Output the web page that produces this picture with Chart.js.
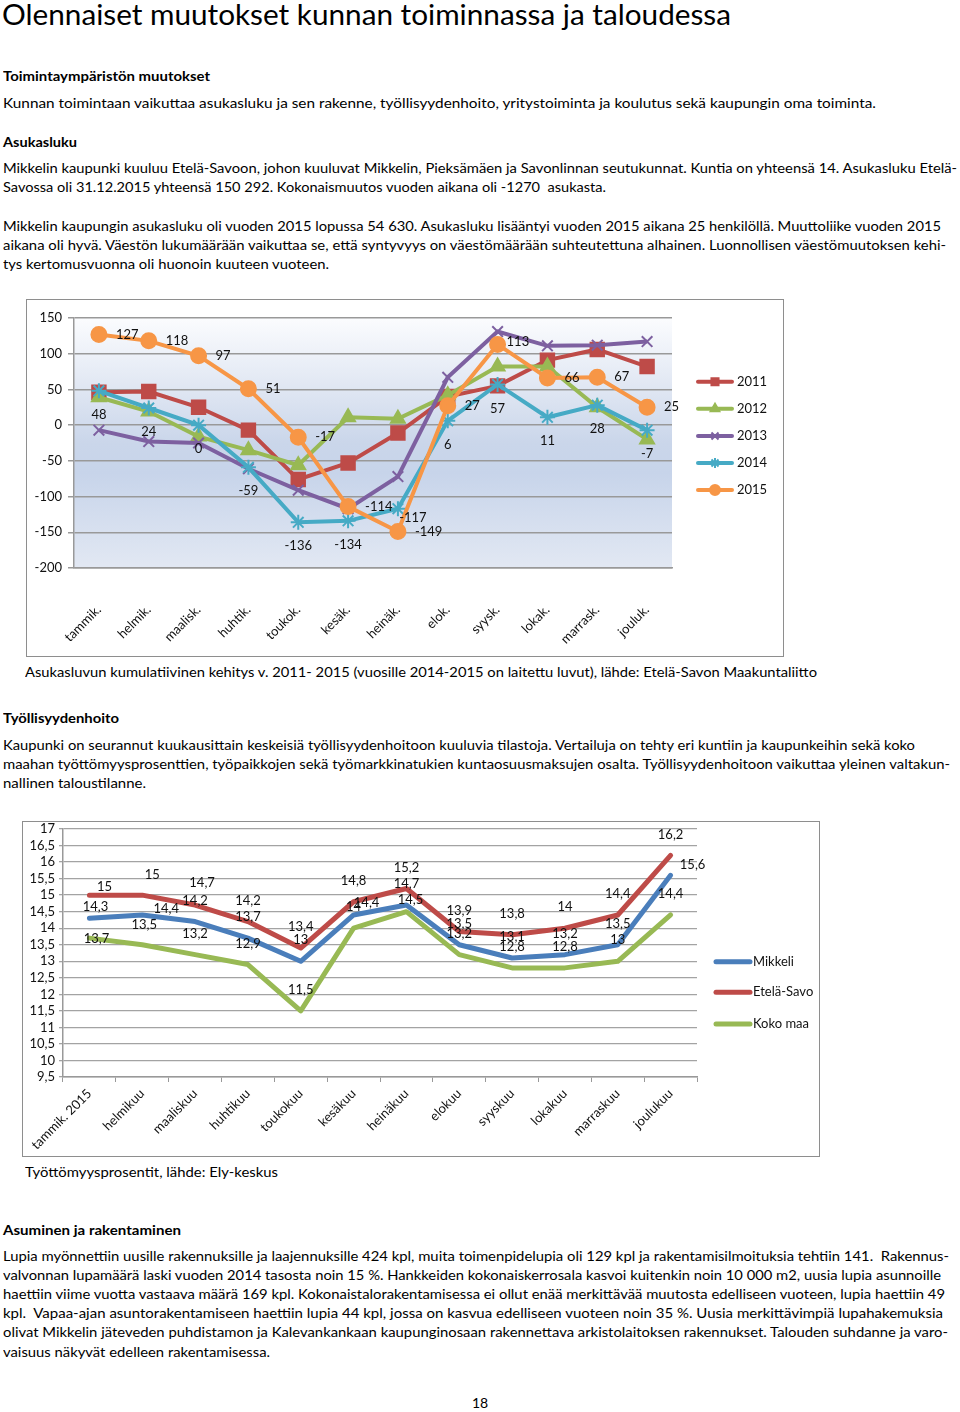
<!DOCTYPE html>
<html><head><meta charset="utf-8">
<script src="https://cdn.jsdelivr.net/npm/chart.js@4.4.1/dist/chart.umd.min.js"></script>
<style>
html,body{margin:0;padding:0;background:#fff;}
body{width:960px;height:1412px;position:relative;overflow:hidden;font-family:Lato,"Open Sans",sans-serif;color:#000;}
.t{position:absolute;white-space:pre;font-size:14px;line-height:19px;transform-origin:0 0;}
.b{font-weight:bold;}
.box{position:absolute;border:1px solid #8e8e8e;background:#fff;}
canvas{display:block;}
</style></head><body>
<div class="t" style="left:2px;top:0px;font-size:28px;line-height:28px" data-w="729">Olennaiset muutokset kunnan toiminnassa ja taloudessa</div>
<div class="t b" style="left:3px;top:66px" data-w="207">Toimintaympäristön muutokset</div>
<div class="t" style="left:3px;top:93px" data-w="873">Kunnan toimintaan vaikuttaa asukasluku ja sen rakenne, työllisyydenhoito, yritystoiminta ja koulutus sekä kaupungin oma toiminta.</div>
<div class="t b" style="left:3px;top:132px" data-w="74">Asukasluku</div>
<div class="t" style="left:3px;top:158px" data-w="954">Mikkelin kaupunki kuuluu Etelä-Savoon, johon kuuluvat Mikkelin, Pieksämäen ja Savonlinnan seutukunnat. Kuntia on yhteensä 14. Asukasluku Etelä-</div>
<div class="t" style="left:3px;top:177px" data-w="603">Savossa oli 31.12.2015 yhteensä 150 292. Kokonaismuutos vuoden aikana oli -1270  asukasta.</div>
<div class="t" style="left:3px;top:216px" data-w="938">Mikkelin kaupungin asukasluku oli vuoden 2015 lopussa 54 630. Asukasluku lisääntyi vuoden 2015 aikana 25 henkilöllä. Muuttoliike vuoden 2015</div>
<div class="t" style="left:3px;top:235px" data-w="943">aikana oli hyvä. Väestön lukumäärään vaikuttaa se, että syntyvyys on väestömäärään suhteutettuna alhainen. Luonnollisen väestömuutoksen kehi-</div>
<div class="t" style="left:3px;top:254px" data-w="326">tys kertomusvuonna oli huonoin kuuteen vuoteen.</div>

<div class="box" style="left:26px;top:299px;width:756px;height:356px"><canvas id="c1" width="756" height="356"></canvas></div>

<div class="t" style="left:25px;top:662px" data-w="792">Asukasluvun kumulatiivinen kehitys v. 2011- 2015 (vuosille 2014-2015 on laitettu luvut), lähde: Etelä-Savon Maakuntaliitto</div>
<div class="t b" style="left:3px;top:708px" data-w="116">Työllisyydenhoito</div>
<div class="t" style="left:3px;top:735px" data-w="912">Kaupunki on seurannut kuukausittain keskeisiä työllisyydenhoitoon kuuluvia tilastoja. Vertailuja on tehty eri kuntiin ja kaupunkeihin sekä koko</div>
<div class="t" style="left:3px;top:754px" data-w="947">maahan työttömyysprosenttien, työpaikkojen sekä työmarkkinatukien kuntaosuusmaksujen osalta. Työllisyydenhoitoon vaikuttaa yleinen valtakun-</div>
<div class="t" style="left:3px;top:773px" data-w="143">nallinen taloustilanne.</div>

<div class="box" style="left:22px;top:821px;width:796px;height:334px"><canvas id="c2" width="796" height="334"></canvas></div>

<div class="t" style="left:25px;top:1162px" data-w="253">Työttömyysprosentit, lähde: Ely-keskus</div>
<div class="t b" style="left:3px;top:1220px" data-w="178">Asuminen ja rakentaminen</div>
<div class="t" style="left:3px;top:1246px" data-w="946">Lupia myönnettiin uusille rakennuksille ja laajennuksille 424 kpl, muita toimenpidelupia oli 129 kpl ja rakentamisilmoituksia tehtiin 141.  Rakennus-</div>
<div class="t" style="left:3px;top:1265px" data-w="938">valvonnan lupamäärä laski vuoden 2014 tasosta noin 15 %. Hankkeiden kokonaiskerrosala kasvoi kuitenkin noin 10 000 m2, uusia lupia asunnoille</div>
<div class="t" style="left:3px;top:1284px" data-w="942">haettiin viime vuotta vastaava määrä 169 kpl. Kokonaistalorakentamisessa ei ollut enää merkittävää muutosta edelliseen vuoteen, lupia haettiin 49</div>
<div class="t" style="left:3px;top:1303px" data-w="940">kpl.  Vapaa-ajan asuntorakentamiseen haettiin lupia 44 kpl, jossa on kasvua edelliseen vuoteen noin 35 %. Uusia merkittävimpiä lupahakemuksia</div>
<div class="t" style="left:3px;top:1322px" data-w="945">olivat Mikkelin jäteveden puhdistamon ja Kalevankankaan kaupunginosaan rakennettava arkistolaitoksen rakennukset. Talouden suhdanne ja varo-</div>
<div class="t" style="left:3px;top:1342px" data-w="267">vaisuus näkyvät edelleen rakentamisessa.</div>
<div class="t" style="left:472px;top:1393px">18</div>

<script>
// ---------- Chart 1 data ----------
const months1 = ['tammik.','helmik.','maalisk.','huhtik.','toukok.','kesäk.','heinäk.','elok.','syysk.','lokak.','marrask.','jouluk.'];
const y2011 = [46, 47, 25, -7, -76, -53, -11, 40, 55, 91, 106, 82];
const y2012 = [39, 19, -16, -35, -56, 11, 9, 42, 82, 82, 25, -20];
const y2013 = [-7, -23, -25, -61, -91, -117, -72, 67, 131, 111, 112, 117];
const y2014 = [48, 24, 0, -59, -136, -134, -117, 6, 57, 11, 28, -7];
const y2015 = [127, 118, 97, 51, -17, -114, -149, 27, 113, 66, 67, 25];
const yTicks1 = [150, 100, 50, 0, -50, -100, -150, -200];
const series1Names = ['2011','2012','2013','2014','2015'];

// ---------- Chart 2 data ----------
const months2 = ['tammik. 2015','helmikuu','maaliskuu','huhtikuu','toukokuu','kesäkuu','heinäkuu','elokuu','syyskuu','lokakuu','marraskuu','joulukuu'];
const mikkeli = [14.3, 14.4, 14.2, 13.7, 13.0, 14.4, 14.7, 13.5, 13.1, 13.2, 13.5, 15.6];
const etelaSavo = [15.0, 15.0, 14.7, 14.2, 13.4, 14.8, 15.2, 13.9, 13.8, 14.0, 14.4, 16.2];
const kokoMaa = [13.7, 13.5, 13.2, 12.9, 11.5, 14.0, 14.5, 13.2, 12.8, 12.8, 13.0, 14.4];
const yTicks2 = [17, 16.5, 16, 15.5, 15, 14.5, 14, 13.5, 13, 12.5, 12, 11.5, 11, 10.5, 10, 9.5];
const series2Names = ['Mikkeli','Etelä-Savo','Koko maa'];

const FONT = 'Lato, "Open Sans", sans-serif';
const fmt = v => String(Math.round(v * 10) / 10).replace('.', ',');

// fit text lines
document.querySelectorAll('[data-w]').forEach(el => {
  const w = el.getBoundingClientRect().width;
  el.style.transform = 'scaleX(' + (+el.dataset.w / w) + ')';
});

const C = {
  red: '#be4b48', green: '#98b954', purple: '#7d60a0', teal: '#46aac5', orange: '#f79646',
  blue: '#4a7ebb'
};

function drawMarker(ctx, style, radius, color, x, y) {
  const opts = {pointStyle: style, radius: radius, rotation: 0, borderWidth: 2};
  ctx.save();
  ctx.fillStyle = color; ctx.strokeStyle = color; ctx.lineWidth = 2;
  Chart.helpers.drawPoint(ctx, opts, x, y);
  ctx.restore();
}

const bgPlugin = {
  id: 'bg1',
  beforeDraw(chart) {
    const a = chart.chartArea, ctx = chart.ctx;
    const g = ctx.createLinearGradient(0, a.top, 0, a.bottom);
    g.addColorStop(0, '#fbfcfe');
    g.addColorStop(0.25, '#e3e9f4');
    g.addColorStop(0.5, '#cad6ea');
    g.addColorStop(0.62, '#c7d4ea');
    g.addColorStop(1, '#e2e8f3');
    ctx.save(); ctx.fillStyle = g; ctx.fillRect(a.left, a.top, a.right - a.left, a.bottom - a.top); ctx.restore();
  }
};

const labels1Plugin = {
  id: 'lab1',
  afterDatasetsDraw(chart) {
    const ctx = chart.ctx;
    ctx.save();
    ctx.font = '13px ' + FONT; ctx.fillStyle = '#111'; ctx.textBaseline = 'middle';
    // 2014 below points
    const m4 = chart.getDatasetMeta(3);
    m4.data.forEach((p, i) => {
      let dx = 0, dy = 24; ctx.textAlign = 'center';
      if (i === 6) { dx = 15; dy = 9; }
      ctx.fillText(String(y2014[i]), p.x + dx, p.y + dy);
    });
    // 2015 right of points
    const m5 = chart.getDatasetMeta(4);
    m5.data.forEach((p, i) => {
      let dx = 17, dy = 0; ctx.textAlign = 'left';
      if (i === 8) { dx = 9; dy = -3; }
      ctx.fillText(String(y2015[i]), p.x + dx, p.y + dy);
    });
    ctx.restore();
  }
};

const legend1Plugin = {
  id: 'leg1',
  afterDraw(chart) {
    const ctx = chart.ctx;
    const ys = [81.7, 108.7, 136, 163, 190];
    chart.data.datasets.forEach((ds, i) => {
      const y = ys[i];
      ctx.save();
      ctx.strokeStyle = ds.borderColor; ctx.lineWidth = 4; ctx.lineCap = 'round';
      ctx.beginPath(); ctx.moveTo(671, y); ctx.lineTo(705, y); ctx.stroke();
      ctx.restore();
      drawMarker(ctx, ds.pointStyle, 5, ds.borderColor, 688, y);
      ctx.save();
      ctx.font = '13px ' + FONT; ctx.fillStyle = '#111'; ctx.textBaseline = 'middle'; ctx.textAlign = 'left';
      ctx.fillText(ds.label, 710, y);
      ctx.restore();
    });
  }
};

function ds1(label, data, color, style, radius, order) {
  return {label, data, borderColor: color, backgroundColor: color, pointBackgroundColor: color,
    pointBorderColor: color, pointStyle: style, pointRadius: radius, pointBorderWidth: 2,
    borderWidth: 4, tension: 0, fill: false, order};
}

new Chart(document.getElementById('c1'), {
  type: 'line',
  data: {labels: months1, datasets: [
    ds1(series1Names[0], y2011, C.red, 'rect', 9.5, 5),
    ds1(series1Names[1], y2012, C.green, 'triangle', 8, 4),
    ds1(series1Names[2], y2013, C.purple, 'crossRot', 7.5, 3),
    ds1(series1Names[3], y2014, C.teal, 'star', 7.5, 2),
    ds1(series1Names[4], y2015, C.orange, 'circle', 7.5, 1)
  ]},
  options: {
    responsive: false, animation: false, devicePixelRatio: 1,
    layout: {padding: {top: 18, right: 111, left: 0, bottom: 0}},
    plugins: {legend: {display: false}, tooltip: {enabled: false}},
    scales: {
      x: {offset: true,
        grid: {display: false, drawTicks: false},
        border: {display: true, color: '#999', width: 1.5},
        ticks: {maxRotation: 45, minRotation: 45, autoSkip: false, padding: 34, color: '#111', font: {family: FONT, size: 13}},
        afterFit(s) { s.height = 88; s.paddingLeft = 0; s.paddingRight = 0; }
      },
      y: {min: -200, max: 150,
        afterBuildTicks(s) { s.ticks = yTicks1.map(v => ({value: v})); },
        ticks: {autoSkip: false, padding: 6, color: '#111', font: {family: FONT, size: 13}},
        grid: {color: '#999', lineWidth: 1.5, tickLength: 6},
        border: {color: '#999', width: 1.5},
        afterFit(s) { s.width = 47; s.paddingTop = 0; s.paddingBottom = 0; }
      }
    }
  },
  plugins: [bgPlugin, labels1Plugin, legend1Plugin]
});

// ---------- Chart 2 ----------
const nudges2 = {
  '1-0': [15, -8], '0-0': [6, -11], '2-0': [7, 1],
  '1-1': [10, -20], '0-1': [24, -6], '2-1': [2, -20],
  '1-2': [7, -22],
  '0-5': [13, -12],
  '2-6': [4, -12],
  '0-11': [22, -10]
};
const labels2Plugin = {
  id: 'lab2',
  afterDatasetsDraw(chart) {
    const ctx = chart.ctx;
    ctx.save();
    ctx.font = '13px ' + FONT; ctx.fillStyle = '#111'; ctx.textBaseline = 'middle'; ctx.textAlign = 'center';
    chart.data.datasets.forEach((ds, di) => {
      chart.getDatasetMeta(di).data.forEach((p, i) => {
        const n = nudges2[di + '-' + i] || [0, -21];
        ctx.fillText(fmt(ds.data[i]), p.x + n[0], p.y + n[1]);
      });
    });
    ctx.restore();
  }
};
const legend2Plugin = {
  id: 'leg2',
  afterDraw(chart) {
    const ctx = chart.ctx;
    const ys = [139.7, 170.3, 202];
    chart.data.datasets.forEach((ds, i) => {
      ctx.save();
      ctx.strokeStyle = ds.borderColor; ctx.lineWidth = 5; ctx.lineCap = 'round';
      ctx.beginPath(); ctx.moveTo(693, ys[i]); ctx.lineTo(727, ys[i]); ctx.stroke();
      ctx.font = '13px ' + FONT; ctx.fillStyle = '#111'; ctx.textBaseline = 'middle'; ctx.textAlign = 'left';
      ctx.fillText(ds.label, 730, ys[i]);
      ctx.restore();
    });
  }
};
function ds2(label, data, color) {
  return {label, data, borderColor: color, backgroundColor: color, borderWidth: 5, pointRadius: 0,
    borderCapStyle: 'round', borderJoinStyle: 'round', tension: 0, fill: false};
}
new Chart(document.getElementById('c2'), {
  type: 'line',
  data: {labels: months2, datasets: [
    ds2(series2Names[0], mikkeli, C.blue),
    ds2(series2Names[1], etelaSavo, C.red),
    ds2(series2Names[2], kokoMaa, C.green)
  ]},
  options: {
    responsive: false, animation: false, devicePixelRatio: 1,
    layout: {padding: {top: 7, right: 122, left: 0, bottom: 0}},
    plugins: {legend: {display: false}, tooltip: {enabled: false}},
    scales: {
      x: {offset: true,
        grid: {display: true, drawOnChartArea: false, drawTicks: true, tickLength: 5, color: '#999', offset: true},
        border: {display: true, color: '#999', width: 1.5},
        ticks: {maxRotation: 45, minRotation: 45, autoSkip: false, padding: 4, color: '#111', font: {family: FONT, size: 13}},
        afterFit(s) { s.height = 79; s.paddingLeft = 0; s.paddingRight = 0; }
      },
      y: {min: 9.5, max: 17,
        afterBuildTicks(s) { s.ticks = yTicks2.map(v => ({value: v})); },
        ticks: {autoSkip: false, padding: 4, color: '#111', font: {family: FONT, size: 13}, callback: v => fmt(v)},
        grid: {color: '#a3a3a3', lineWidth: 1.3, tickLength: 4},
        border: {color: '#999', width: 1.5},
        afterFit(s) { s.width = 40; s.paddingTop = 0; s.paddingBottom = 0; }
      }
    }
  },
  plugins: [labels2Plugin, legend2Plugin]
});
</script>
</body></html>
